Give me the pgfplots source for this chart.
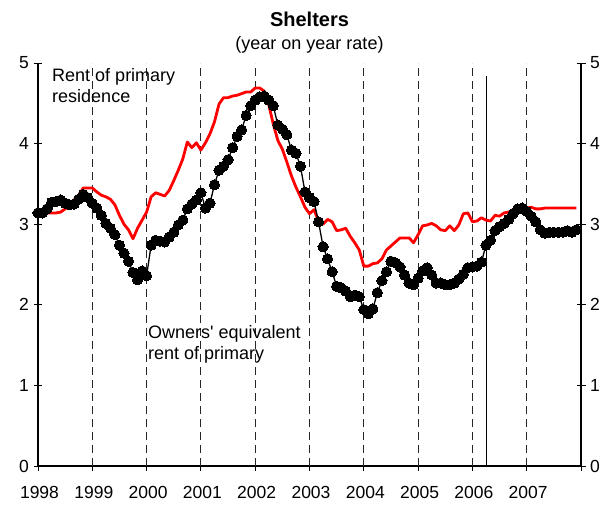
\documentclass[border=0pt]{standalone}
\usepackage{pgfplots}
\usepackage{pgfplotstable}
\pgfplotsset{compat=1.18}
\usepackage{fontspec}
\setmainfont{Liberation Sans}
\definecolor{rentred}{RGB}{255,0,0}
\pgfplotstableread{
m oer rent
0 3.14 3.13
1 3.14 3.13
2 3.19 3.14
3 3.27 3.14
4 3.28 3.14
5 3.30 3.15
6 3.26 3.19
7 3.24 3.24
8 3.25 3.30
9 3.31 3.36
10 3.37 3.45
11 3.33 3.45
12 3.26 3.45
13 3.20 3.40
14 3.11 3.36
15 3.01 3.34
16 2.95 3.31
17 2.87 3.24
18 2.74 3.11
19 2.64 3.00
20 2.54 2.93
21 2.40 2.82
22 2.31 2.95
23 2.42 3.05
24 2.36 3.15
25 2.74 3.34
26 2.80 3.39
27 2.79 3.37
28 2.78 3.35
29 2.84 3.42
30 2.90 3.54
31 2.99 3.67
32 3.05 3.81
33 3.19 4.02
34 3.25 3.95
35 3.30 4.01
36 3.39 3.92
37 3.20 4.01
38 3.26 4.12
39 3.49 4.27
40 3.67 4.49
41 3.72 4.57
42 3.80 4.57
43 3.95 4.59
44 4.09 4.60
45 4.17 4.62
46 4.35 4.64
47 4.47 4.64
48 4.54 4.69
49 4.58 4.69
50 4.59 4.65
51 4.54 4.48
52 4.47 4.24
53 4.23 4.04
54 4.18 3.93
55 4.11 3.77
56 3.92 3.60
57 3.88 3.46
58 3.72 3.34
59 3.40 3.21
60 3.33 3.13
61 3.28 3.18
62 3.03 3.04
63 2.72 3.00
64 2.57 3.06
65 2.41 3.03
66 2.23 2.92
67 2.21 2.93
68 2.17 2.95
69 2.10 2.85
70 2.12 2.77
71 2.10 2.68
72 1.94 2.48
73 1.89 2.48
74 1.95 2.51
75 2.15 2.52
76 2.30 2.57
77 2.41 2.68
78 2.54 2.73
79 2.52 2.78
80 2.47 2.83
81 2.37 2.83
82 2.27 2.83
83 2.25 2.77
84 2.33 2.87
85 2.42 2.98
86 2.46 2.99
87 2.37 3.01
88 2.27 2.98
89 2.27 2.93
90 2.25 2.92
91 2.25 2.98
92 2.27 2.92
93 2.32 2.99
94 2.38 3.13
95 2.46 3.14
96 2.47 3.03
97 2.48 3.04
98 2.53 3.08
99 2.74 3.05
100 2.80 3.04
101 2.92 3.11
102 2.97 3.10
103 3.01 3.14
104 3.06 3.15
105 3.13 3.18
106 3.19 3.19
107 3.20 3.20
108 3.16 3.20
109 3.10 3.21
110 3.03 3.19
111 2.93 3.19
112 2.89 3.20
113 2.90 3.20
114 2.90 3.20
115 2.90 3.20
116 2.90 3.20
117 2.92 3.20
118 2.90 3.20
119 2.93 3.20
}\datatable
\begin{document}
\begin{tikzpicture}
\pgfplotsset{
  common/.style={
    scale only axis, width=543pt, height=403pt,
    xmin=0, xmax=120, ymin=0, ymax=5,
    ytick={0,1,2,3,4,5},
    tick align=center, major tick length=9pt,
    tick style={black, line width=0.9pt},
    axis line style={-, black, line width=1.1pt},
    ticklabel style={font=\fontsize{17.5}{20}\selectfont},
    /pgf/number format/assume math mode=true,
  }
}
\begin{axis}[common,
  axis x line*=bottom, axis y line*=left,
  xtick={0,12,24,36,48,60,72,84,96,108,120},
  xticklabels={1998,1999,2000,2001,2002,2003,2004,2005,2006,2007,{}},
  xticklabel style={yshift=-12pt, xshift=1.5pt},
  yticklabel style={xshift=-1pt},
  clip=false,
]
\coordinate (SW) at (rel axis cs:0,0);
\coordinate (NE) at (rel axis cs:1,1);
\foreach \yr in {12,24,36,48,60,72,84,96,108}{
  \edef\temp{\noexpand\draw[black!85, line width=0.9pt, dash pattern=on 8pt off 5pt] (axis cs:\yr,0) -- (axis cs:\yr,5);}
  \temp
}
\draw[black, line width=0.8pt] (axis cs:99,0) -- (axis cs:99,4.84);
\addplot[rentred, line width=2.8pt, line join=round, no markers] table[x=m, y=rent] {\datatable};
\addplot[black, line width=1.3pt, mark=*, mark size=5.1pt, mark options={fill=black, draw=black, line width=0pt}] table[x=m, y=oer] {\datatable};
\node[anchor=north west, align=left, font=\fontsize{18}{21}\selectfont, inner sep=0pt] at (axis cs:3.1,4.94) {Rent of primary\\residence};
\node[anchor=north west, align=left, font=\fontsize{18}{21}\selectfont, inner sep=0pt] at (axis cs:24.3,1.75) {Owners\textquotesingle\ equivalent\\rent of primary};
\node[anchor=base, font=\fontsize{20}{24}\selectfont\bfseries] at ([yshift=36pt]rel axis cs:0.5,1) {Shelters};
\node[anchor=base, font=\fontsize{18}{21}\selectfont] at ([yshift=13pt]rel axis cs:0.5,1) {(year on year rate)};
\end{axis}
\begin{axis}[common,
  axis x line=none, axis y line*=right,
  yticklabel style={xshift=1pt},
]
\end{axis}
\pgfresetboundingbox
\path (SW) ++(-38pt,-38pt) rectangle ([shift={(32pt,63pt)}]NE);
\end{tikzpicture}
\end{document}
